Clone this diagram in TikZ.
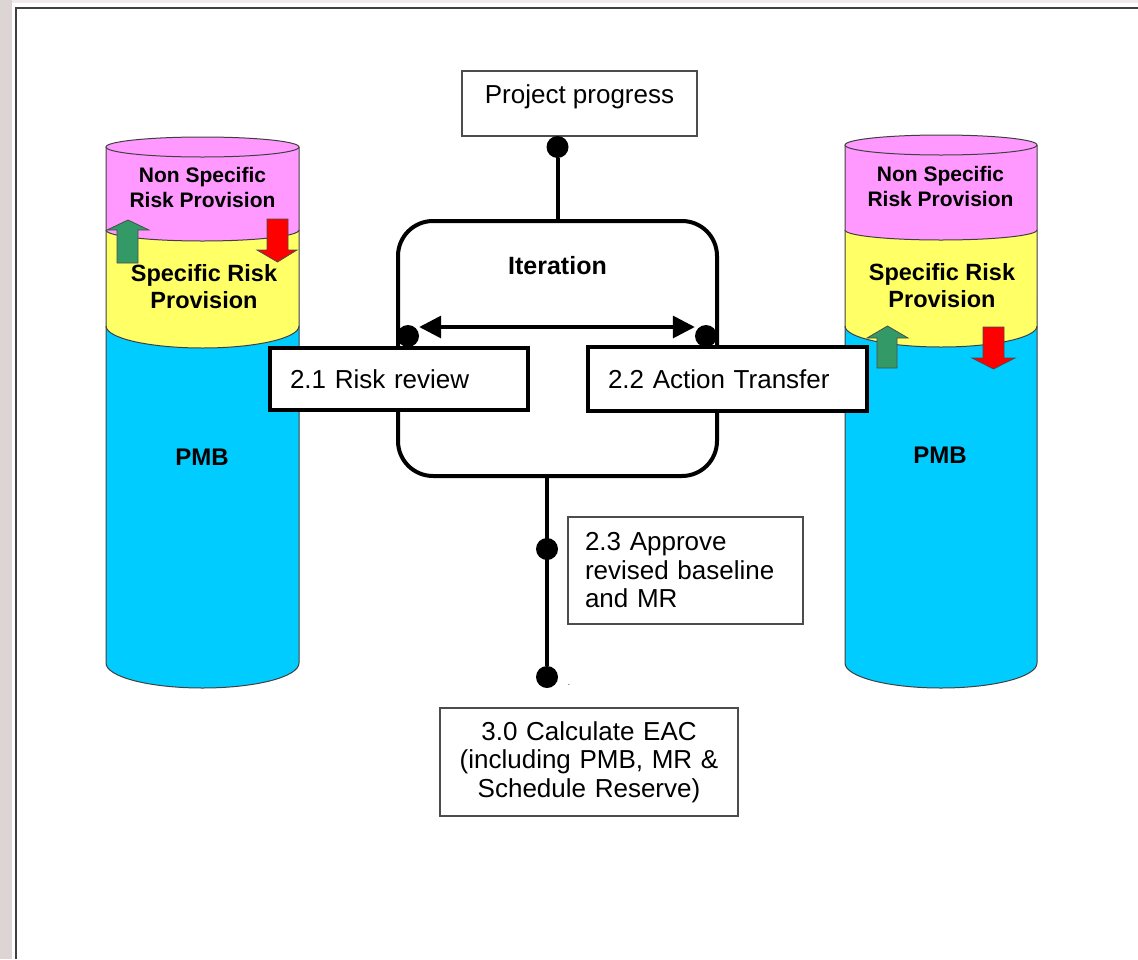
\documentclass[tikz,border=0pt]{standalone}
\usepackage{fontspec}
\setmainfont{Liberation Sans}
\usetikzlibrary{arrows.meta,positioning}

\definecolor{nsrpPink}{RGB}{255,153,255}
\definecolor{srpYellow}{RGB}{255,255,102}
\definecolor{pmbCyan}{RGB}{0,204,255}
\definecolor{upGreen}{RGB}{51,153,102}
\definecolor{downRed}{RGB}{255,0,0}
\definecolor{pageGrey}{RGB}{221,212,212}
\definecolor{pageTint}{RGB}{242,234,234}

\begin{document}
\begin{tikzpicture}[
    x=1pt, y=1pt,
    font=\fontsize{26}{28.5}\selectfont,
    frameLine/.style={draw=black!75, line width=2pt},
    canEdge/.style={draw=black!75, line width=1pt},
    nsrpLayer/.style={fill=nsrpPink, canEdge},
    srpLayer/.style={fill=srpYellow, canEdge},
    pmbLayer/.style={fill=pmbCyan},
    canLabel/.style={font=\bfseries\fontsize{21}{25}\selectfont, align=center, inner sep=0pt},
    srpLabel/.style={font=\bfseries\fontsize{23.5}{27}\selectfont, align=center, inner sep=0pt},
    pmbLabel/.style={font=\bfseries\fontsize{24}{28}\selectfont, inner sep=0pt},
    upArrow/.style={fill=upGreen, draw=black!70, line width=0.8pt},
    downArrow/.style={fill=downRed, draw=black!70, line width=0.8pt},
    stepBox/.style={
        rectangle, draw=black, line width=4pt, fill=white,
        align=left, inner xsep=20pt, minimum height=62pt
    },
    noteBox/.style={rectangle, draw=black!70, line width=1.2pt, fill=white, inner xsep=17pt},
    iterBox/.style={
        rectangle, rounded corners=35pt, draw=black, line width=4pt,
        minimum width=319pt, minimum height=255pt
    },
    dotNode/.style={circle, fill=black, minimum size=22pt, inner sep=0pt},
    connLine/.style={draw=black, line width=4pt},
    loopArrow/.style={
        {Triangle[length=22pt, width=22pt]}-{Triangle[length=22pt, width=22pt]},
        line width=3.5pt
    }
]

% Page
\useasboundingbox (0,0) rectangle (1138,-959);
\fill[white] (0,0) rectangle (1138,-959);
\fill[pageGrey] (0,0) rectangle (12,-959);
\fill[pageTint] (12,0) rectangle (1138,-3);
\draw[frameLine] (16,-959) -- (16,-8) -- (1138,-8);

% Left budget can
\fill[pmbLayer] (106,-300) -- (106,-663) arc[start angle=180, end angle=360, x radius=96.5pt, y radius=25pt] -- (299,-300) -- cycle;
\filldraw[srpLayer] (106,-230) -- (106,-326) arc[start angle=180, end angle=360, x radius=96.5pt, y radius=22pt] -- (299,-230);
\filldraw[nsrpLayer] (106,-147) -- (106,-230) arc[start angle=180, end angle=360, x radius=96.5pt, y radius=11pt] -- (299,-147);
\filldraw[nsrpLayer] (202.5,-147) ellipse[x radius=96.5pt, y radius=10pt];
\draw[canEdge] (106,-326) -- (106,-663) arc[start angle=180, end angle=360, x radius=96.5pt, y radius=25pt] -- (299,-326);

\filldraw[upArrow] (117,-263) -- (117,-230) -- (107,-230) -- (128,-220) -- (149,-230) -- (138,-230) -- (138,-263) -- cycle;
\filldraw[downArrow] (267,-219) -- (267,-250) -- (257,-250) -- (277.5,-262) -- (297,-250) -- (288,-250) -- (288,-219) -- cycle;

\node[canLabel] (lNsrp) at (202.5,-187.5) {Non Specific\\Risk Provision};
\node[srpLabel] (lSrp) at (204,-286.5) {Specific Risk\\Provision};
\node[pmbLabel] (lPmb) at (202,-457) {PMB};

% Right budget can
\fill[pmbLayer] (845,-300) -- (845,-663) arc[start angle=180, end angle=360, x radius=96pt, y radius=25pt] -- (1037,-300) -- cycle;
\filldraw[srpLayer] (845,-230) -- (845,-326) arc[start angle=180, end angle=360, x radius=96pt, y radius=21pt] -- (1037,-230);
\filldraw[nsrpLayer] (845,-145) -- (845,-230) arc[start angle=180, end angle=360, x radius=96pt, y radius=10pt] -- (1037,-145);
\filldraw[nsrpLayer] (941,-145) ellipse[x radius=96pt, y radius=10pt];
\draw[canEdge] (845,-326) -- (845,-663) arc[start angle=180, end angle=360, x radius=96pt, y radius=25pt] -- (1037,-326);

\filldraw[upArrow] (877,-368) -- (877,-338) -- (867,-338) -- (887.5,-326) -- (908,-338) -- (897,-338) -- (897,-368) -- cycle;
\filldraw[downArrow] (983,-327) -- (983,-358) -- (972,-358) -- (993.5,-369) -- (1015,-358) -- (1004,-358) -- (1004,-327) -- cycle;

\node[canLabel] (rNsrp) at (940.5,-186) {Non Specific\\Risk Provision};
\node[srpLabel] (rSrp) at (942,-286) {Specific Risk\\Provision};
\node[pmbLabel] (rPmb) at (940,-455) {PMB};

% Iteration loop
\node[iterBox] (iter) at (557.5,-348.5) {};
\node[font=\bfseries\fontsize{25}{30}\selectfont] (iterLbl) at (557.5,-266) {Iteration};

\node[stepBox, text width=218pt] (riskRev) at (399,-379) {2.1 Risk review};
\node[stepBox, text width=239pt, minimum height=64pt] (actTrans) at (727.5,-379) {2.2 Action Transfer};

\node[dotNode] (revDot) at (408,-336) {};
\node[dotNode] (actDot) at (706,-336) {};
\draw[loopArrow] ([yshift=9pt]revDot.east) -- ([yshift=9pt]actDot.west);

% Inputs and outputs
\node[noteBox, minimum width=235pt, minimum height=65pt, text height=19pt, text depth=19pt] (progress) at (579.5,-103.5) {Project progress};
\node[dotNode] (ppDot) at (557.5,-147) {};
\draw[connLine] (ppDot) -- (iter.north);

\node[noteBox, text width=201pt, align=left, minimum height=107pt] (approve) at (685.5,-570.5) {2.3 Approve\\revised baseline\\and MR};
\node[dotNode] (apvDot) at (547,-549) {};
\node[dotNode] (eacDot) at (547,-677) {};
\draw[connLine] (iter.south -| apvDot) -- (eacDot);
\node[font=\fontsize{8}{9}\selectfont, inner sep=0pt] (strayDot) at (569,-685) {.};

\node[noteBox, text width=280pt, align=center, inner xsep=9pt, minimum height=108pt] (eac) at (589,-762) {3.0 Calculate EAC\\(including PMB, MR \&\\Schedule Reserve)};

\end{tikzpicture}
\end{document}
